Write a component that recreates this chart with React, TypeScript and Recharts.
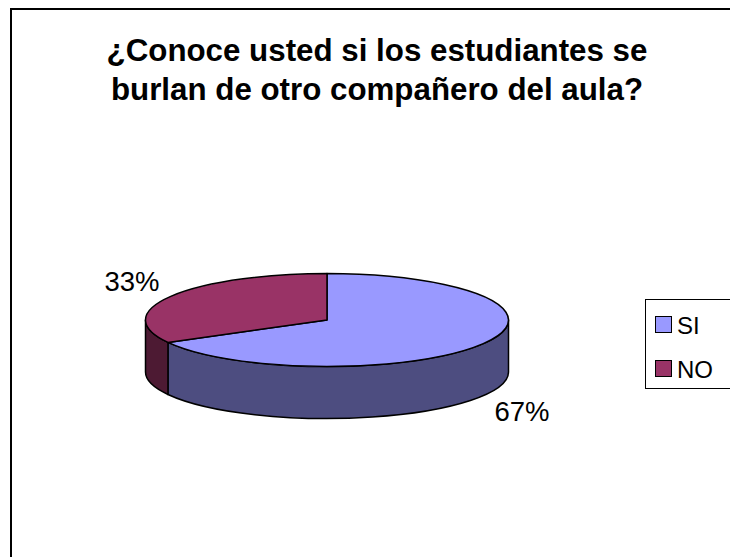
import React from "react";
import { PieChart, Pie, Cell, Legend } from "recharts";

const categories = ["SI", "NO"];
const shares = [67, 33];
const topColors = ["#9999FF", "#993366"];
const sideColors = ["#4D4D80", "#4D1A33"];
const titleLines = [
  "¿Conoce usted si los estudiantes se",
  "burlan de otro compañero del aula?",
];

const data = categories.map((name, i) => ({
  name,
  value: shares[i],
  side: sideColors[i],
}));

const FONT = "'Liberation Sans', Arial, sans-serif";
const FLAT = 0.256; // vertical squash of the pie top
const DEPTH = 0.287; // thickness relative to radius
const RAD = Math.PI / 180;

const pt = (cx: number, cy: number, rx: number, ry: number, deg: number, dy = 0) =>
  `${cx + rx * Math.cos(deg * RAD)},${cy + dy - ry * Math.sin(deg * RAD)}`;

// draws one slice as a tilted 3D wedge
const Slice3D = (props: any) => {
  const { cx, cy, outerRadius, startAngle, endAngle, fill } = props;
  const side = props.payload?.side ?? props.side ?? "#333";
  const rx = outerRadius;
  const ry = outerRadius * FLAT;
  const depth = outerRadius * DEPTH;
  const lo = Math.min(startAngle, endAngle);
  const hi = Math.max(startAngle, endAngle);

  const walls: [number, number][] = [];
  for (let k = -2; k <= 1; k++) {
    const a = Math.max(lo, -180 + 360 * k);
    const b = Math.min(hi, 360 * k);
    if (b - a > 0.01) walls.push([a, b]);
  }

  const sweep = endAngle < startAngle ? 1 : 0;
  const large = hi - lo > 180 ? 1 : 0;
  const top = `M${cx},${cy} L${pt(cx, cy, rx, ry, startAngle)} A${rx},${ry} 0 ${large} ${sweep} ${pt(
    cx, cy, rx, ry, endAngle
  )} Z`;

  return (
    <g>
      {walls.map(([a, b], i) => (
        <path
          key={i}
          d={`M${pt(cx, cy, rx, ry, a)} A${rx},${ry} 0 0 0 ${pt(cx, cy, rx, ry, b)} L${pt(
            cx, cy, rx, ry, b, depth
          )} A${rx},${ry} 0 0 1 ${pt(cx, cy, rx, ry, a, depth)} Z`}
          fill={side}
          stroke="#000"
          strokeWidth={1.5}
          strokeLinejoin="round"
        />
      ))}
      <path d={top} fill={fill} stroke="#000" strokeWidth={1.5} strokeLinejoin="round" />
    </g>
  );
};

const renderLabel = (p: any) => {
  const { cx, cy, midAngle, outerRadius, percent } = p;
  const ry = outerRadius * FLAT;
  const depth = outerRadius * DEPTH;
  const c = Math.cos(midAngle * RAD);
  const s = Math.sin(midAngle * RAD);
  const x = cx + (outerRadius + 45) * c;
  const y = cy - (ry + 30) * s + (s < 0 ? depth : 0) + 10;
  return (
    <text x={x} y={y} textAnchor="middle" fontFamily={FONT} fontSize={27.5} fill="#000">
      {`${Math.round(percent * 100)}%`}
    </text>
  );
};

const renderLegend = (p: any) => {
  const items = [...(p.payload ?? [])].sort(
    (a: any, b: any) => categories.indexOf(a.value) - categories.indexOf(b.value)
  );
  return (
    <div
      style={{
        position: "relative",
        width: 85,
        height: 88,
        borderTop: "1.5px solid #000",
        borderLeft: "1.5px solid #000",
        borderBottom: "1.5px solid #000",
        background: "#fff",
        fontFamily: FONT,
      }}
    >
      {items.map((item: any, i: number) => (
        <React.Fragment key={item.value}>
          <span
            style={{
              position: "absolute",
              left: 9,
              top: 16 + i * 44,
              width: 15,
              height: 15,
              background: item.color,
              border: "1.5px solid #000",
            }}
          />
          <span
            style={{
              position: "absolute",
              left: 31,
              top: 13.5 + i * 44,
              fontSize: 24,
              lineHeight: "24px",
              color: "#000",
              whiteSpace: "nowrap",
            }}
          >
            {item.value}
          </span>
        </React.Fragment>
      ))}
    </div>
  );
};

export default function App() {
  return (
    <div
      style={{
        position: "absolute",
        left: 0,
        top: 0,
        width: 730,
        height: 557,
        overflow: "hidden",
        background: "#fff",
      }}
    >
      <div
        style={{
          position: "absolute",
          left: 10,
          top: 8,
          width: 760,
          height: 600,
          borderTop: "2px solid #000",
          borderLeft: "2px solid #000",
        }}
      />
      <div style={{ position: "absolute", left: 0, top: 0 }}>
        <PieChart width={730} height={557} margin={{ top: 0, right: 0, bottom: 0, left: 0 }}>
          {titleLines.map((line, i) => (
            <text
              key={i}
              x={377}
              y={61 + i * 39}
              textAnchor="middle"
              fontFamily={FONT}
              fontWeight="bold"
              fontSize={31.3}
              fill="#000"
            >
              {line}
            </text>
          ))}
          <Pie
            data={data}
            dataKey="value"
            nameKey="name"
            cx={327}
            cy={320}
            outerRadius={181.5}
            startAngle={90}
            endAngle={-270}
            shape={Slice3D}
            activeShape={Slice3D}
            inactiveShape={Slice3D}
            label={renderLabel}
            labelLine={false}
            isAnimationActive={false}
          >
            {data.map((d, i) => (
              <Cell key={d.name} fill={topColors[i]} />
            ))}
          </Pie>
          <Legend
            layout="vertical"
            align="center"
            verticalAlign="middle"
            content={renderLegend}
            wrapperStyle={{ left: 645, top: 299, width: 85 }}
          />
        </PieChart>
      </div>
    </div>
  );
}
